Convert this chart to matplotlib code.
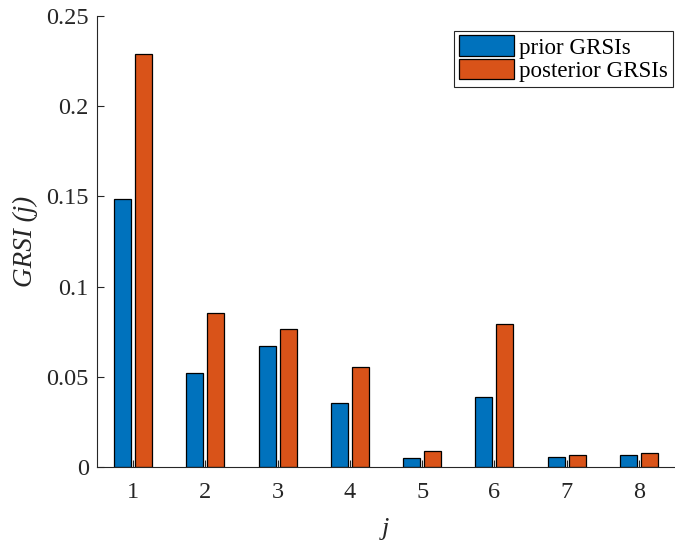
import matplotlib
matplotlib.use("Agg")
import matplotlib.pyplot as plt
import numpy as np

j = [1, 2, 3, 4, 5, 6, 7, 8]
prior = [0.1486, 0.0521, 0.0671, 0.0357, 0.0050, 0.0388, 0.0055, 0.0067]
posterior = [0.2290, 0.0854, 0.0765, 0.0552, 0.0090, 0.0793, 0.0067, 0.0079]
yticks = [0, 0.05, 0.1, 0.15, 0.2, 0.25]
yticklabels = ["0", "0.05", "0.1", "0.15", "0.2", "0.25"]

plt.rcParams['font.family'] = ['Liberation Serif', 'DejaVu Serif']

fig = plt.figure(figsize=(6.75, 5.42), dpi=100)
ax = fig.add_axes([97/675, 75/542, 578/675, 451/542])

x = np.array(j)
w = 0.235
ax.bar(x - 0.145, prior, width=w, color='#0072BD', edgecolor='black', linewidth=0.9, label='prior GRSIs')
ax.bar(x + 0.145, posterior, width=w, color='#D95319', edgecolor='black', linewidth=0.9, label='posterior GRSIs')

ax.set_xlim(0.5, 8.5)
ax.set_ylim(0, 0.25)
ax.set_xticks(j)
ax.set_xticklabels([str(v) for v in j])
ax.set_yticks(yticks)
ax.set_yticklabels(yticklabels)
ax.tick_params(direction='in', labelsize=17.5, length=5, width=0.8, colors='#262626')
ax.tick_params(axis='y', pad=6)
ax.tick_params(axis='x', pad=11)
for lab in ax.get_xticklabels() + ax.get_yticklabels():
    lab.set_color('#262626')
ax.spines['top'].set_visible(False)
ax.spines['right'].set_visible(False)
for s in ['left', 'bottom']:
    ax.spines[s].set_color('#262626')
    ax.spines[s].set_linewidth(0.8)

ax.set_xlabel('j', fontsize=19, fontstyle='italic', color='#262626')
ax.xaxis.set_label_coords(0.5, -0.113)
ax.set_ylabel('GRSI (j)', fontsize=19.5, fontstyle='italic', color='#262626')
ax.yaxis.set_label_coords(-0.102, 0.5)

leg = ax.legend(loc='upper right', bbox_to_anchor=(0.996, 0.967), fontsize=16.6, fancybox=False,
                edgecolor='#262626', framealpha=1, handlelength=2.4, handleheight=1.0,
                handletextpad=0.22, borderpad=0.2, labelspacing=0.0, borderaxespad=0.0)
leg.get_frame().set_linewidth(0.8)

fig.savefig('out.png', dpi=100)
